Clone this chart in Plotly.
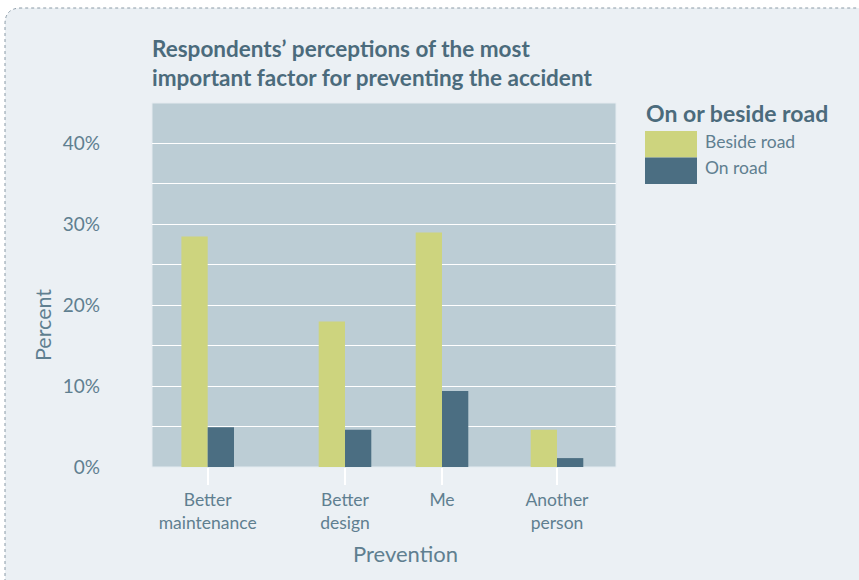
import plotly.graph_objects as go

# ---- data ----
categories = ["Better<br>maintenance", "Better<br>design", "Me", "Another<br>person"]
category_pos = [55.7, 193.0, 290.0, 405.0]   # positions of categories along x axis
series_names = ["Beside road", "On road"]
beside_road = [28.5, 18.0, 29.0, 4.6]
on_road = [4.9, 4.6, 9.4, 1.1]
y_tickvals = [0, 10, 20, 30, 40]
y_ticktext = ["0%", "10%", "20%", "30%", "40%"]

# ---- style ----
C_BESIDE = "#cdd47e"
C_ONROAD = "#4b6e82"
C_PLOT = "#bccdd5"
C_BOX = "#ebf0f4"
C_TEXT = "#5f7f90"
C_TITLE = "#4b6b7c"
FONT = "Lato"

W, H = 859, 580
L, R, T, B = 152, 243, 103, 113
PW, PH = W - L - R, H - T - B
BAR_W = 26.3


def px(x):
    return (x - L) / PW


def py(y):
    return (H - B - y) / PH


fig = go.Figure()
fig.add_trace(go.Bar(x=category_pos, y=beside_road, name=series_names[0],
                     marker=dict(color=C_BESIDE, line=dict(width=0)),
                     width=BAR_W, offset=-BAR_W, showlegend=False))
fig.add_trace(go.Bar(x=category_pos, y=on_road, name=series_names[1],
                     marker=dict(color=C_ONROAD, line=dict(width=0)),
                     width=BAR_W, offset=0, showlegend=False))

# background box with dotted rounded border
x0, x1 = px(5), px(880)
y0, y1 = py(600), py(8)
rx, ry = 16 / PW, 16 / PH
path = (f"M {x0},{y0} L {x0},{y1 - ry} Q {x0},{y1} {x0 + rx},{y1} "
        f"L {x1},{y1} L {x1},{y0} Z")
shapes = [
    dict(type="path", path=path, xref="paper", yref="paper", layer="below",
         fillcolor=C_BOX, line=dict(color="#8a9aa6", width=1, dash="dot")),
    dict(type="rect", xref="paper", yref="paper", x0=0, x1=1, y0=0, y1=1,
         layer="below", fillcolor=C_PLOT, line=dict(color="#e4ebf0", width=1)),
]

# legend drawn manually
leg_colors = [C_BESIDE, C_ONROAD]
leg_tops = [131, 157.5]
annotations = []
for name, col, top in zip(series_names, leg_colors, leg_tops):
    shapes.append(dict(type="rect", xref="paper", yref="paper",
                       x0=px(645), x1=px(697), y0=py(top + 26.5), y1=py(top),
                       fillcolor=col, line=dict(width=0)))
    annotations.append(dict(text=name, xref="paper", yref="paper",
                            x=px(703), y=py(top + 10), xanchor="left", yanchor="middle",
                            showarrow=False, font=dict(family=FONT, size=17.5, color=C_TEXT)))
annotations.append(dict(text="<b>On or beside road</b>", xref="paper", yref="paper",
                        x=px(644), y=py(113), xanchor="left", yanchor="middle",
                        showarrow=False, font=dict(family=FONT, size=23, color=C_TITLE)))
# title
annotations.append(dict(text="<b>Respondents’ perceptions of the most<br>important factor for preventing the accident</b>",
                        xref="paper", yref="paper", x=px(150), y=py(33),
                        xanchor="left", yanchor="top", align="left", showarrow=False,
                        font=dict(family=FONT, size=22.5, color=C_TITLE)))
# axis titles
annotations.append(dict(text="Prevention", xref="paper", yref="paper",
                        x=px(405), y=py(553), xanchor="center", yanchor="middle",
                        showarrow=False, font=dict(family=FONT, size=22, color=C_TEXT)))
annotations.append(dict(text="Percent", xref="paper", yref="paper",
                        x=px(43), y=py(325), xanchor="center", yanchor="middle",
                        textangle=-90, showarrow=False,
                        font=dict(family=FONT, size=21.5, color=C_TEXT)))

fig.update_layout(
    width=W, height=H,
    margin=dict(l=L, r=R, t=T, b=B, pad=0),
    paper_bgcolor="white",
    plot_bgcolor="rgba(0,0,0,0)",
    font=dict(family=FONT, color=C_TEXT),
    barmode="overlay",
    shapes=shapes,
    annotations=annotations,
    xaxis=dict(range=[0, PW], tickvals=category_pos, ticktext=categories,
               ticks="outside", ticklen=17, tickwidth=2, tickcolor="white",
               showgrid=False, zeroline=False, showline=False,
               tickfont=dict(family=FONT, size=17.5, color=C_TEXT), fixedrange=True),
    yaxis=dict(range=[0, 45], dtick=5, tickvals=y_tickvals, ticktext=y_ticktext,
               showgrid=True, gridcolor="white", gridwidth=1,
               zeroline=False, showline=False, ticks="",
               ticklabelstandoff=51,
               tickfont=dict(family=FONT, size=19, color=C_TEXT), fixedrange=True),
    showlegend=False,
)
# minor grid every 5%
fig.update_yaxes(minor=dict(dtick=5, showgrid=True, gridcolor="white", gridwidth=1))

fig.write_html("out.html")
